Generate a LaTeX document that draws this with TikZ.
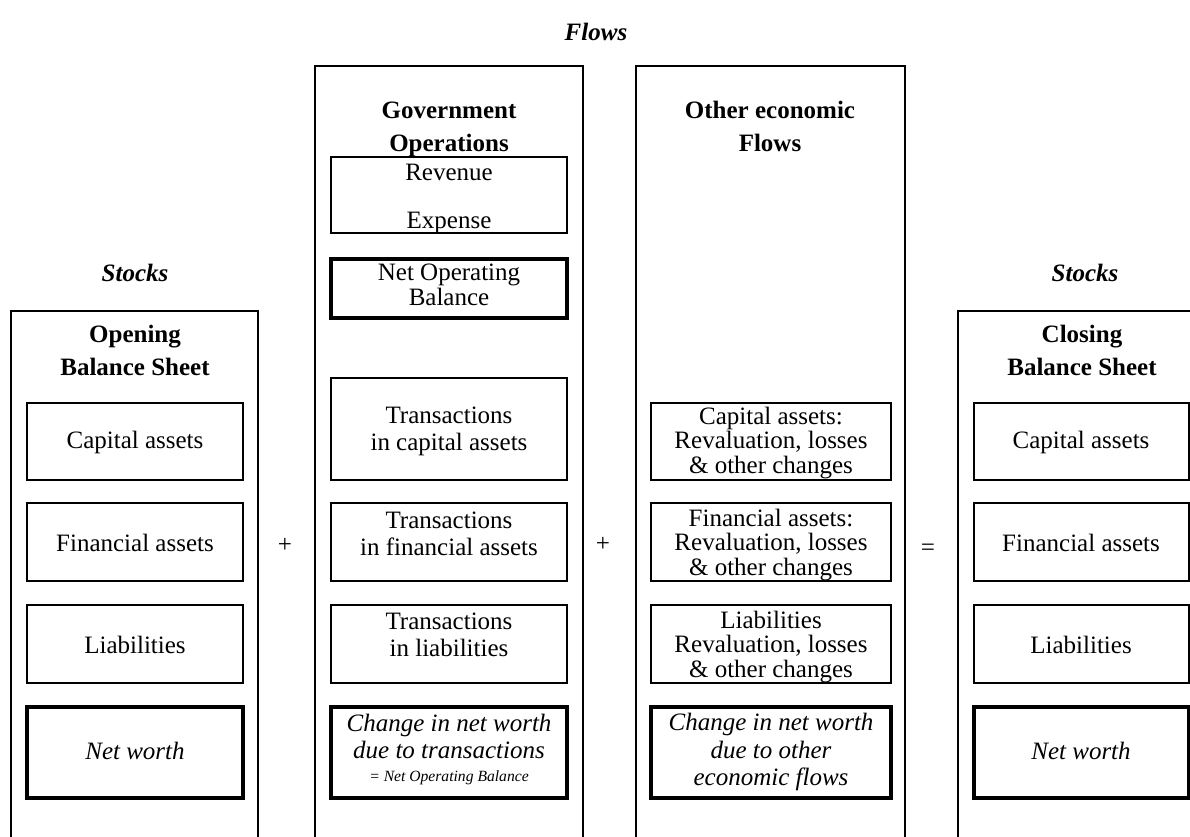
\documentclass[tikz,border=0pt]{standalone}
\usepackage{fontspec}
\setmainfont{Liberation Serif}
\usepackage{tikz}

\tikzset{
  column/.style={line width=1pt},
  cell/.style={line width=0.6pt},
  keycell/.style={line width=1.8pt},
  txt/.style={align=center, inner sep=0pt, font=\fontsize{12}{12}\selectfont},
  txtwide/.style={txt, font=\fontsize{12}{13}\selectfont},
  head/.style={align=center, inner sep=0pt, font=\bfseries\fontsize{12}{15.8}\selectfont},
  title/.style={inner sep=0pt, font=\bfseries\itshape\fontsize{12}{14}\selectfont},
}

\begin{document}
\begin{tikzpicture}[x=0.48pt,y=0.48pt,yscale=-1,xscale=1]
\useasboundingbox (0,0) rectangle (1190,836);
\clip (0,0) rectangle (1190,836);

%Shape: Column, opening balance sheet
\draw [column] (11,850) -- (11,311) -- (258,311) -- (258,850) ;
%Shape: Column, government operations
\draw [column] (315,850) -- (315,66) -- (583,66) -- (583,850) ;
%Shape: Column, other economic flows
\draw [column] (636,850) -- (636,66) -- (905,66) -- (905,850) ;
%Shape: Column, closing balance sheet
\draw [column] (958,850) -- (958,311) -- (1200,311) ;

%Shape: Rectangle, opening stocks
\draw [cell] (27,403) rectangle (243,480) ;
\draw [cell] (27,503) rectangle (243,581) ;
\draw [cell] (27,605) rectangle (243,683) ;
\draw [keycell] (27,707) rectangle (243,798) ;
%Shape: Rectangle, transactions
\draw [cell] (331,157) rectangle (567,233) ;
\draw [keycell] (331,259) rectangle (567,318) ;
\draw [cell] (331,378) rectangle (567,480) ;
\draw [cell] (331,503) rectangle (567,581) ;
\draw [cell] (331,605) rectangle (567,683) ;
\draw [keycell] (331,707) rectangle (567,798) ;
%Shape: Rectangle, other flows
\draw [cell] (651,403) rectangle (891,480) ;
\draw [cell] (651,503) rectangle (891,581) ;
\draw [cell] (651,605) rectangle (891,683) ;
\draw [keycell] (651,707) rectangle (891,798) ;
%Shape: Rectangle, closing stocks
\draw [cell] (974,403) rectangle (1189,480) ;
\draw [cell] (974,503) rectangle (1189,581) ;
\draw [cell] (974,605) rectangle (1189,683) ;
\draw [keycell] (974,707) rectangle (1189,798) ;

% Text Node
\draw (596,32) node [title] (flows) {Flows};
% Text Node
\draw (135,273) node [title] (stocksL) {Stocks};
% Text Node
\draw (1085,273) node [title] (stocksR) {Stocks};

% Text Node
\draw (135,350) node [head] (opnHead) {Opening\\Balance Sheet};
% Text Node
\draw (449,129) node [head] (govHead) {Government\\Operations};
% Text Node
\draw (770,126) node [head] (othHead) {Other economic\\Flows};
% Text Node
\draw (1082,350) node [head] (clsHead) {Closing\\Balance Sheet};

% Text Node
\draw (135,442) node [txt] (opnCap) {Capital assets};
% Text Node
\draw (135,543) node [txt] (opnFin) {Financial assets};
% Text Node
\draw (135,645) node [txt] (opnLia) {Liabilities};
% Text Node
\draw (135,751) node [txt] (opnNet) {\itshape Net worth};

% Text Node
\draw (449,199) node [txt] (govRev) {Revenue\\[10.6pt]Expense};
% Text Node
\draw (449,285) node [txt] (govNob) {Net Operating\\Balance};
% Text Node
\draw (449,431) node [txtwide] (govCap) {Transactions\\in capital assets};
% Text Node
\draw (449,534) node [txtwide] (govFin) {Transactions\\in financial assets};
% Text Node
\draw (449,635) node [txtwide] (govLia) {Transactions\\in liabilities};
% Text Node
\draw (449,749) node [txtwide] (govNet) {\itshape Change in net worth\\\itshape due to transactions\\[-2pt]{\itshape\fontsize{7.5}{9}\selectfont = Net Operating Balance}};

% Text Node
\draw (771,443) node [txt, font=\fontsize{12}{11.6}\selectfont] (othCap) {Capital assets:\\Revaluation, losses\\\&~other changes};
% Text Node
\draw (771,545) node [txt, font=\fontsize{12}{11.6}\selectfont] (othFin) {Financial assets:\\Revaluation, losses\\\&~other changes};
% Text Node
\draw (771,647) node [txt, font=\fontsize{12}{11.6}\selectfont] (othLia) {Liabilities\\Revaluation, losses\\\&~other changes};
% Text Node
\draw (771,752) node [txt, font=\itshape\fontsize{12}{13.2}\selectfont] (othNet) {Change in net worth\\due to other\\economic flows};

% Text Node
\draw (1081,442) node [txt] (clsCap) {Capital assets};
% Text Node
\draw (1081,543) node [txt] (clsFin) {Financial assets};
% Text Node
\draw (1081,645) node [txt] (clsLia) {Liabilities};
% Text Node
\draw (1081,751) node [txt] (clsNet) {\itshape Net worth};

% Text Node
\draw (285,545) node [txt] (plusA) {+};
% Text Node
\draw (603,544) node [txt] (plusB) {+};
% Text Node
\draw (928,550) node [txt] (equals) {=};

\end{tikzpicture}
\end{document}
